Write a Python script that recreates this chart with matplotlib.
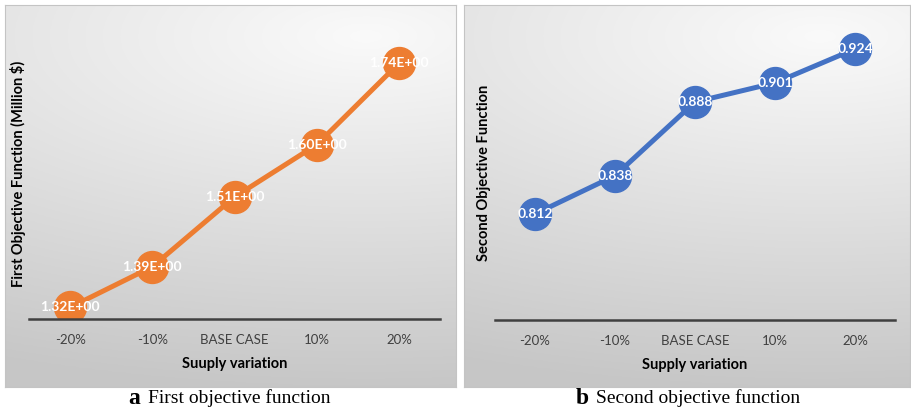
import numpy as np
import matplotlib
matplotlib.use("Agg")
from matplotlib import pyplot as plt

# Sensitivity of both objectives to the supply level
categories = ["-20%", "-10%", "BASE CASE", "10%", "20%"]
first_obj = [1.32, 1.39, 1.51, 1.60, 1.74]
first_labels = ["1.32E+00", "1.39E+00", "1.51E+00", "1.60E+00", "1.74E+00"]
second_obj = [0.812, 0.838, 0.888, 0.901, 0.924]
second_labels = ["0.812", "0.838", "0.888", "0.901", "0.924"]

W, H = 911, 412
fig = plt.figure(figsize=(W / 100, H / 100), dpi=100)
fig.patch.set_facecolor("white")


def px(x0, y0, x1, y1):
    # pixel box (top-left origin) -> figure fraction rect
    return [x0 / W, 1 - y1 / H, (x1 - x0) / W, (y1 - y0) / H]


def panel_background(rect):
    bg = fig.add_axes(rect, zorder=0)
    ny, nx = 200, 240
    yy, xx = np.mgrid[0:1:ny * 1j, 0:1:nx * 1j]
    # bright spot near the top right, fading to grey towards the bottom
    r = np.sqrt(((xx - 0.8) / 2.0) ** 2 + ((yy - 0.08) / 0.92) ** 2)
    shade = 0.98 - 0.20 * np.clip(r, 0, 1)
    bg.imshow(np.dstack([shade] * 3), aspect="auto", extent=(0, 1, 0, 1), origin="upper")
    bg.set_xticks([]), bg.set_yticks([])
    for s in bg.spines.values():
        s.set_color("#c4c4c4")
        s.set_linewidth(0.8)


def draw_panel(rect, values, labels, color, ylim, ylabel, xlabel, ylab_x):
    ax = fig.add_axes(rect, zorder=1)
    ax.patch.set_alpha(0)
    x = np.arange(len(categories))
    ax.plot(x, values, color=color, lw=3.6, marker="o", markersize=23,
            solid_capstyle="round", zorder=2)
    for xi, v, t in zip(x, values, labels):
        ax.text(xi, v, t, color="white", fontsize=10, fontweight="bold",
                ha="center", va="center", family="Lato", zorder=3)
    ax.set_xlim(-0.5, 4.5)
    ax.set_ylim(*ylim)
    ax.set_xticks(x)
    ax.set_xticklabels(categories, family="Lato", fontsize=9.5, color="#404040")
    ax.tick_params(axis="x", length=0, pad=11)
    ax.set_yticks([])
    for side in ["top", "right", "left"]:
        ax.spines[side].set_visible(False)
    ax.spines["bottom"].set_color("#404040")
    ax.spines["bottom"].set_linewidth(1.8)
    ax.set_xlabel(xlabel, family="Lato", fontsize=10.5, fontweight="bold", color="#000000", labelpad=8)
    ax.set_ylabel(ylabel, family="Lato", fontsize=10.5, fontweight="bold", color="#000000")
    ax.yaxis.set_label_coords(ylab_x, 0.5)
    return ax


panel_background(px(5, 5, 456, 387))
panel_background(px(464, 5, 910, 387))

draw_panel(px(29, 28.5, 440, 319), first_obj, first_labels, "#ED7D31", (1.30, 1.80),
           "First Objective Function (Million $)", "Suuply variation", -0.008)
draw_panel(px(495, 25.4, 895, 320), second_obj, second_labels, "#4472C4", (0.74, 0.94),
           "Second Objective Function", "Supply variation", -0.011)

# panel captions: bold letter, then the description
for lx, tx, letter, text in [(140, 148, "a", "First objective function"),
                             (589, 596, "b", "Second objective function")]:
    fig.text(lx / W, 1 - 398 / H, letter, ha="right", va="center",
             family="Liberation Serif", fontsize=17, fontweight="bold", color="black")
    fig.text(tx / W, 1 - 398 / H, text, ha="left", va="center",
             family="Liberation Serif", fontsize=14, color="black")

fig.savefig("out.png", dpi=100)
